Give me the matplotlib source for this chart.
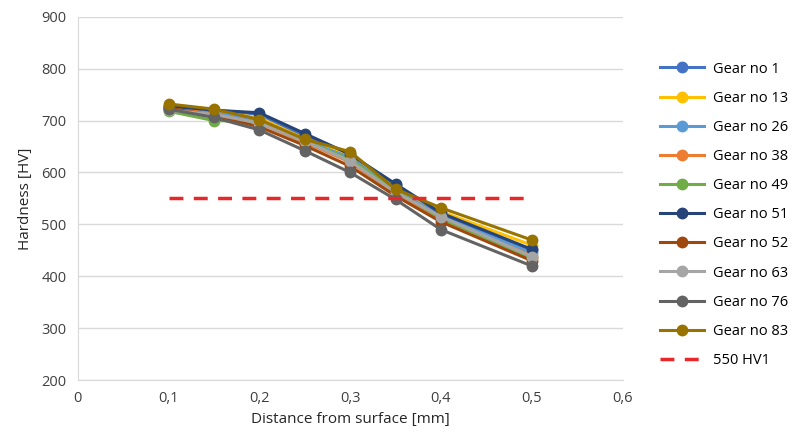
import numpy as np
import matplotlib.pyplot as plt

plt.rcParams['font.family'] = ['Open Sans', 'DejaVu Sans']

# distance from surface [mm]
dist = [0.1, 0.15, 0.2, 0.25, 0.3, 0.35, 0.4, 0.5]

gear_names = ['Gear no 1', 'Gear no 13', 'Gear no 26', 'Gear no 38', 'Gear no 49',
              'Gear no 51', 'Gear no 52', 'Gear no 63', 'Gear no 76', 'Gear no 83']

gear_1 = [725, 720, 712, 670, 632, 575, 520, 450]
gear_13 = [728, 718, 705, 665, 635, 570, 525, 460]
gear_26 = [722, 715, 700, 662, 628, 568, 515, 445]
gear_38 = [726, 712, 695, 658, 620, 560, 510, 440]
gear_49 = [718, 700, 698, 660, 625, 565, 512, 435]
gear_51 = [728, 720, 715, 675, 635, 578, 522, 452]
gear_52 = [724, 710, 688, 652, 612, 555, 505, 430]
gear_63 = [720, 712, 695, 660, 622, 562, 515, 438]
gear_76 = [722, 706, 682, 642, 600, 548, 490, 420]
gear_83 = [732, 722, 702, 664, 640, 568, 532, 470]

gear_vals = [gear_1, gear_13, gear_26, gear_38, gear_49,
             gear_51, gear_52, gear_63, gear_76, gear_83]

colors = ['#4472C4', '#FFC000', '#5B9BD5', '#ED7D31', '#70AD47',
          '#264478', '#9E480E', '#A5A5A5', '#636363', '#997300']

limit_x = [0.1, 0.5]
limit_y = [550, 550]

fig = plt.figure(figsize=(7.93, 4.40), dpi=100)
ax = fig.add_axes([0.098, 0.136, 0.687, 0.826])

for name, vals, c in zip(gear_names, gear_vals, colors):
    ax.plot(dist, vals, color=c, lw=2.2, marker='o', ms=7.5, label=name)

ax.plot(limit_x, limit_y, color='#E8272A', lw=2.5, ls=(0, (4, 3)), label='550 HV1')

ax.set_xlim(0, 0.6)
ax.set_ylim(200, 900)
ax.set_xticks(np.arange(0, 0.61, 0.1))
ax.set_xticklabels(['0', '0,1', '0,2', '0,3', '0,4', '0,5', '0,6'])
ax.set_yticks(range(200, 901, 100))
ax.tick_params(length=0, labelsize=10.5, colors='#404040', pad=8)
ax.grid(axis='y', color='#D9D9D9', lw=1)
ax.set_axisbelow(True)
for s in ['top', 'right']:
    ax.spines[s].set_visible(False)
for s in ['left', 'bottom']:
    ax.spines[s].set_color('#D9D9D9')
ax.set_xlabel('Distance from surface [mm]', fontsize=11, color='#262626', labelpad=4)
ax.set_ylabel('Hardness [HV]', fontsize=11, color='#262626', labelpad=6)

ax.legend(loc='center left', bbox_to_anchor=(1.045, 0.455), frameon=False,
          fontsize=10.5, labelspacing=0.97, handlelength=3, handletextpad=0.6)

fig.savefig('out.png', dpi=100)
